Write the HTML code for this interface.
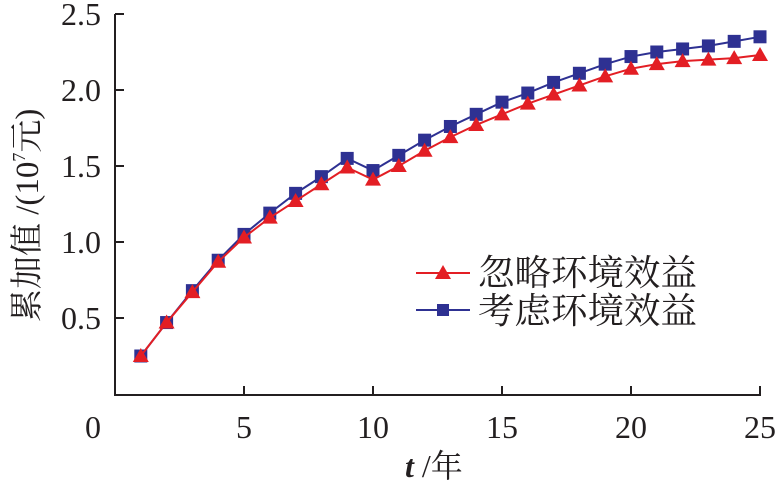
<!DOCTYPE html>
<html><head><meta charset="utf-8"><style>
html,body{margin:0;padding:0;background:#fff;width:779px;height:484px;overflow:hidden}
text{font-family:"Liberation Serif","Noto Serif CJK SC",serif;fill:#231f20}
</style></head><body>
<svg id="s" width="779" height="484" xmlns="http://www.w3.org/2000/svg">
<g stroke="#231f20" stroke-width="2" fill="none">
<path d="M115,14 V395 H761"/>
<path d="M115,14 H124 M115,90 H124 M115,166 H124 M115,242 H124 M115,318 H124"/>
<path d="M244,395 V386 M373,395 V386 M502,395 V386 M631,395 V386 M760,395 V386"/>
</g>
<g font-size="32" text-anchor="end">
<text x="101" y="25">2.5</text><text x="101" y="101">2.0</text><text x="101" y="177">1.5</text><text x="101" y="253">1.0</text><text x="101" y="329">0.5</text>
</g>
<g font-size="32" text-anchor="middle">
<text x="93" y="438">0</text><text x="244" y="438">5</text><text x="373" y="438">10</text><text x="502" y="438">15</text><text x="631" y="438">20</text><text x="760" y="438">25</text>
</g>
<text x="405" y="477" font-size="32"><tspan font-style="italic" font-weight="bold">t</tspan> /年</text>
<text transform="translate(38,322) rotate(-90)" font-size="33">累加值 /(10<tspan font-size="18" dy="-13">7</tspan><tspan dy="13">元)</tspan></text>
<g id="d"></g>
<line x1="416" y1="273" x2="470" y2="273" stroke="#e31e24" stroke-width="2"/>
<polygon points="443,265 451,279 435,279" fill="#e31e24"/>
<line x1="416" y1="310" x2="470" y2="310" stroke="#2e3192" stroke-width="2"/>
<rect x="437" y="304" width="12" height="12" fill="#2e3192"/>
<text x="478" y="285" font-size="36" textLength="219" lengthAdjust="spacingAndGlyphs">忽略环境效益</text>
<text x="478" y="323" font-size="36" textLength="219" lengthAdjust="spacingAndGlyphs">考虑环境效益</text>
</svg>
<script>
var r=[0.25,0.47,0.67,0.87,1.03,1.16,1.27,1.38,1.49,1.41,1.50,1.60,1.69,1.77,1.84,1.91,1.97,2.03,2.09,2.14,2.17,2.19,2.20,2.21,2.23];
var b=[0.25,0.47,0.68,0.88,1.05,1.19,1.32,1.43,1.55,1.47,1.57,1.67,1.76,1.84,1.92,1.98,2.05,2.11,2.17,2.22,2.25,2.27,2.29,2.32,2.35];
function X(i){return 115+25.8*(i+1)}function Y(v){return 394-152*v}
var h='';
h+='<polyline fill="none" stroke="#2e3192" stroke-width="2" points="'+b.map(function(v,i){return X(i)+','+Y(v)}).join(' ')+'"/>';
b.forEach(function(v,i){h+='<rect x="'+(X(i)-6.5)+'" y="'+(Y(v)-6.5)+'" width="13" height="13" fill="#2e3192"/>'});
h+='<polyline fill="none" stroke="#e31e24" stroke-width="2" points="'+r.map(function(v,i){return X(i)+','+Y(v)}).join(' ')+'"/>';
r.forEach(function(v,i){var x=X(i),y=Y(v);h+='<polygon fill="#e31e24" points="'+x+','+(y-8)+' '+(x+8)+','+(y+6)+' '+(x-8)+','+(y+6)+'"/>'});
document.getElementById('d').innerHTML=h;
</script>
</body></html>
